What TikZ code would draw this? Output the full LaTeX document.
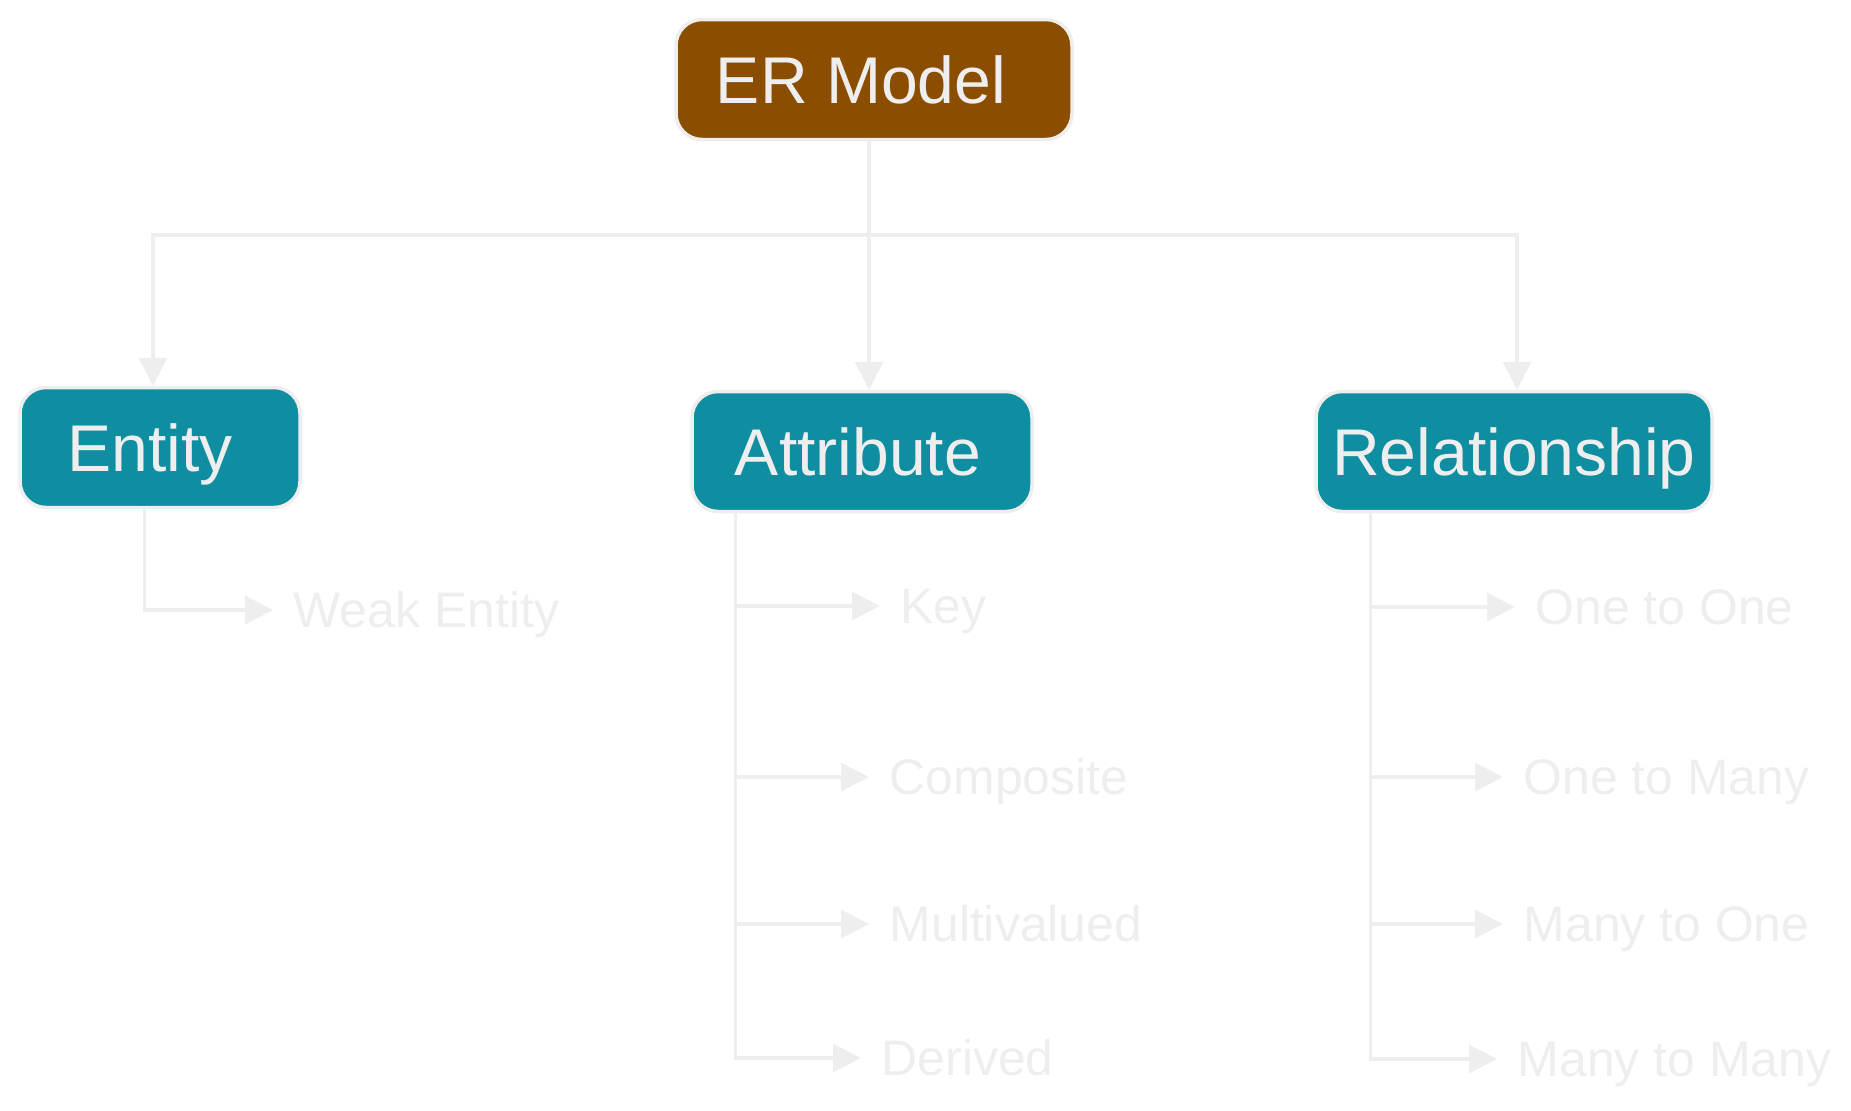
\documentclass[tikz,border=0pt]{standalone}
\usepackage{fontspec}
\setmainfont{Liberation Sans}
\usetikzlibrary{arrows.meta}

\definecolor{erbrown}{HTML}{8B4E00}
\definecolor{erteal}{HTML}{0E8EA0}
\definecolor{erlight}{HTML}{EEEEEE}

\tikzset{
  box/.style={draw=erlight, line width=0.35mm, rounded corners=2.6mm,
    text=erlight, minimum height=12mm, inner sep=0pt,
    font=\fontsize{18.8}{22}\selectfont, text height=13.5pt, text depth=0pt},
  root/.style={box, fill=erbrown},
  group/.style={box, fill=erteal},
  leaf/.style={anchor=west, text=erlight, inner xsep=2mm, inner ysep=0pt,
    font=\fontsize{14.2}{17}\selectfont, text height=10.2pt, text depth=0pt},
  line/.style={draw=erlight, line width=0.33mm},
  link/.style={line, -{Triangle[length=2.8mm, width=2.8mm]}},
}

\begin{document}
\begin{tikzpicture}[x=0.1mm, y=-0.1mm]
    \useasboundingbox (0,0) rectangle (1851,1110);

    % Define nodes
    \node[root,  minimum width=39.6mm] (er)     at (874,79.5)  {ER Model\hspace*{2.6mm}};
    \node[group, minimum width=28mm]   (entity) at (160,447.5) {Entity\hspace*{2mm}};
    \node[group, minimum width=34mm]   (attr)   at (862,451.5) {Attribute\hspace*{0.8mm}};
    \node[group, minimum width=39.6mm] (rel)    at (1514,451.5) {Relationship};

    \foreach \name/\x/\y/\txt in {weak/273/610/Weak Entity,
        key/880/606/Key, comp/869/777/Composite,
        multi/869/924/Multivalued, derived/861/1058/Derived,
        one2one/1515/607/One to One, one2many/1503/777/One to Many,
        many2one/1503/924/Many to One, many2many/1497/1059/Many to Many}
      \node[leaf] (\name) at (\x,\y) {\txt};

    % Connect the nodes
    \coordinate (hub) at (869,235);
    \draw[line] (hub |- er.south) -- (hub);
    \draw[link] (hub) -| ([xshift=-0.7mm]entity.north);
    \draw[link] (hub) -- (hub |- attr.north);
    \draw[link] (hub) -| ([xshift=0.3mm]rel.north);

    \coordinate (estem) at ([xshift=12.6mm]entity.south west);
    \coordinate (astem) at ([xshift=4.5mm]attr.south west);
    \coordinate (rstem) at ([xshift=5.6mm]rel.south west);

    \draw[link] (estem) |- (weak.west);
    \foreach \leaf in {key,comp,multi,derived}
      \draw[link] (astem) |- (\leaf.west);
    \foreach \leaf in {one2one,one2many,many2one,many2many}
      \draw[link] (rstem) |- (\leaf.west);

\end{tikzpicture}
\end{document}
